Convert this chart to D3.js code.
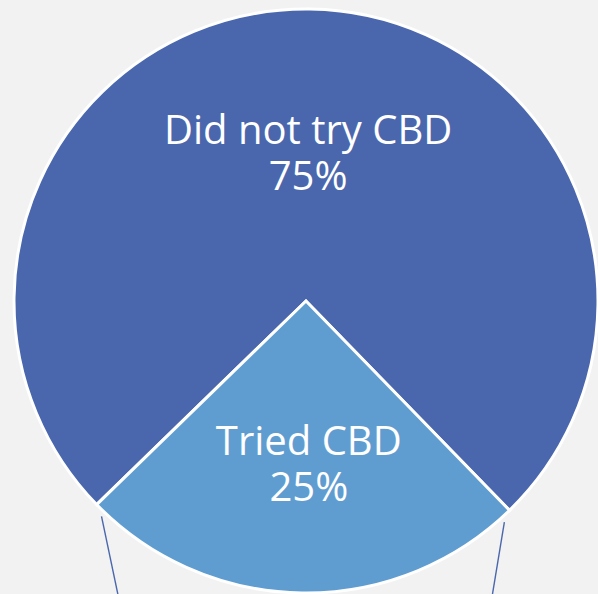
<!DOCTYPE html>
<html>
<head>
<meta charset="utf-8">
<script src="https://cdn.jsdelivr.net/npm/d3@7"></script>
<style>
  html, body { margin: 0; padding: 0; background: #f2f2f2; }
  svg { display: block; }
</style>
</head>
<body>
<svg id="chart"></svg>
<script>
const categories = ['Did not try CBD', 'Tried CBD'];
const values = [75, 25];
const colors = ['#4a67ad', '#5f9dd1'];

const WIDTH = 598;
const HEIGHT = 594;
const cx = 306;
const cy = 301;
const radius = 292;

const svg = d3.select('#chart')
  .attr('width', WIDTH)
  .attr('height', HEIGHT);

svg.append('rect')
  .attr('width', WIDTH)
  .attr('height', HEIGHT)
  .attr('fill', '#f2f2f2');

const data = categories.map((c, i) => ({ label: c, value: values[i], color: colors[i] }));

// big slice centred at 12 o'clock, small one at 6 o'clock (tiny tilt like the original)
const tilt = 0.014;
const pie = d3.pie()
  .sort(null)
  .value((d) => d.value)
  .startAngle(-Math.PI * 3 / 4 + tilt)
  .endAngle(Math.PI * 5 / 4 + tilt);

const arcs = pie(data);
const arc = d3.arc().innerRadius(0).outerRadius(radius);

const g = svg.append('g').attr('transform', `translate(${cx},${cy})`);

// leader lines hanging below the chart edge
const total = d3.sum(values);
const smallSlice = arcs[1];
const leaderAngles = [smallSlice.endAngle - 0.04, smallSlice.startAngle + 0.04];
const leaderSlope = [0.21, -0.165];
leaderAngles.forEach((a, i) => {
  const r0 = radius + 5;
  const x0 = r0 * Math.sin(a);
  const y0 = -r0 * Math.cos(a);
  const len = 120;
  g.append('line')
    .attr('x1', x0)
    .attr('y1', y0)
    .attr('x2', x0 + leaderSlope[i] * len)
    .attr('y2', y0 + len)
    .attr('stroke', '#4a67ad')
    .attr('stroke-width', 1.4);
});

g.selectAll('path.slice')
  .data(arcs)
  .join('path')
  .attr('class', 'slice')
  .attr('d', arc)
  .attr('fill', (d) => d.data.color)
  .attr('stroke', '#ffffff')
  .attr('stroke-width', 3)
  .attr('stroke-linejoin', 'miter');

const labelRadius = (d) => (d.data.value > 50 ? 0.525 : 0.54) * radius;

const labels = g.selectAll('text.label')
  .data(arcs)
  .join('text')
  .attr('class', 'label')
  .attr('transform', (d) => {
    const a = (d.startAngle + d.endAngle) / 2;
    const r = labelRadius(d);
    const dx = d.data.value > 50 ? 0 : 5;
    return `translate(${r * Math.sin(a) + dx},${-r * Math.cos(a)})`;
  })
  .attr('text-anchor', 'middle')
  .attr('fill', '#ffffff')
  .style('font-family', '"Open Sans", Lato, sans-serif')
  .style('font-size', '40px');

labels.append('tspan')
  .attr('x', 0)
  .attr('dy', '-0.1em')
  .text((d) => d.data.label);

labels.append('tspan')
  .attr('x', 0)
  .attr('dy', '1.15em')
  .text((d) => `${Math.round(d.data.value / total * 100)}%`);
</script>
</body>
</html>
